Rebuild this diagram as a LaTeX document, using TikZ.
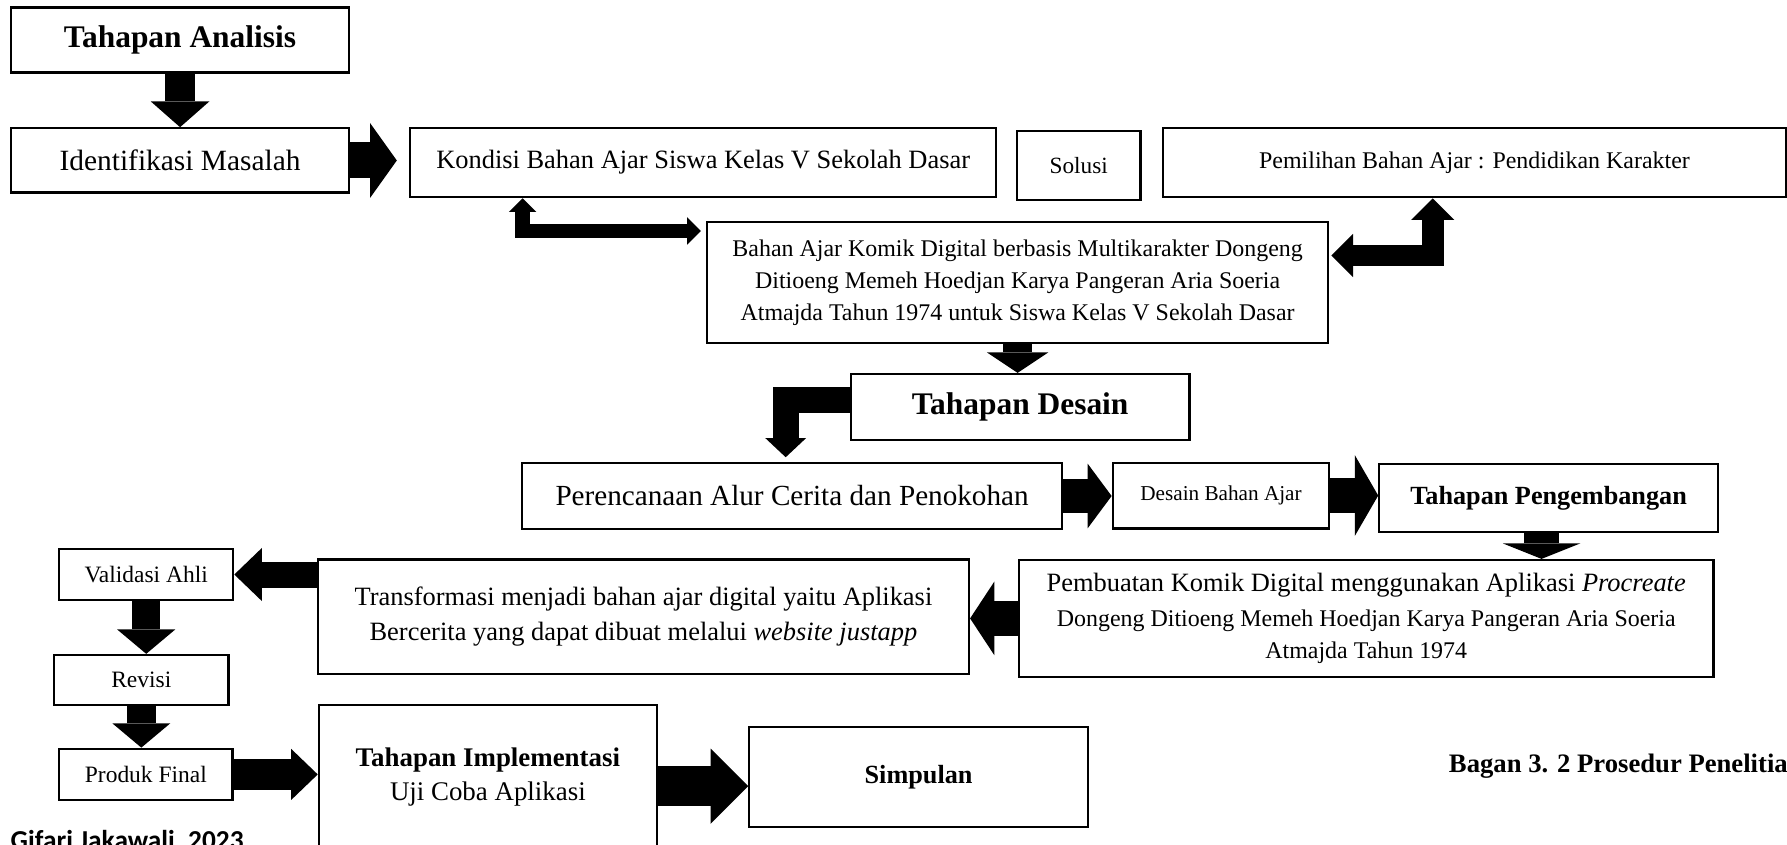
\documentclass[tikz,border=0pt]{standalone}
\usepackage{fontspec}
\setmainfont{Liberation Serif}
\newfontfamily\notefont{Carlito}
\usetikzlibrary{arrows.meta}
\newcommand{\setsz}[2]{\fontsize{#1}{#2}\selectfont}

\begin{document}
\begin{tikzpicture}[x=0.5pt,y=-0.5pt,
    box/.style={draw,line width=1pt,inner sep=0pt,align=center,minimum width=#1},
    box/.default=148.5pt,
    fat/.style n args={3}{line width=#1,-{Triangle[width=#2,length=#3,line width=0pt]}},
    twofat/.style n args={3}{line width=#1,line join=miter,
        {Triangle[width=#2,length=#3,line width=0pt]}-{Triangle[width=#2,length=#3,line width=0pt]}}]
    \useasboundingbox (0,0) rectangle (1568,740.6);

    % tahapan analisis
    \node[box,minimum height=28.5pt,font={\setsz{13.8pt}{16pt}\bfseries}] (analisis) at (158,35) {Tahapan Analisis};
    \node[box,minimum height=28.2pt,font={\setsz{12.9pt}{15pt}}] (ident) at (158,140.8) {Identifikasi Masalah};
    \node[box=257pt,minimum height=30.5pt,font={\setsz{11.6pt}{14pt}}] (kondisi) at (617,142.5) {Kondisi Bahan Ajar Siswa Kelas V Sekolah Dasar};
    \node[box=54.1pt,minimum height=30.4pt,font={\setsz{10.2pt}{12pt}}] (solusi) at (946.5,145.1) {Solusi};
    \node[box=273.2pt,minimum height=30.5pt,font={\setsz{10.5pt}{12pt}}] (pemilihan) at (1293.8,142.5) {Pemilihan Bahan Ajar : Pendidikan Karakter};
    \node[box=272.5pt,minimum height=53.1pt,font={\setsz{10.5pt}{14pt}}] (bahan) at (892.9,248.1)
        {Bahan Ajar Komik Digital berbasis Multikarakter Dongeng\\ Ditioeng Memeh Hoedjan Karya Pangeran Aria Soeria\\ Atmajda Tahun 1974 untuk Siswa Kelas V Sekolah Dasar};

    % tahapan desain
    \node[box,minimum height=28.9pt,font={\setsz{13.8pt}{16pt}\bfseries}] (desain) at (895.2,357.1) {Tahapan Desain};
    \node[box=236.7pt,minimum height=29.2pt,font={\setsz{12.8pt}{15pt}}] (peren) at (695,435.2) {Perencanaan Alur Cerita dan Penokohan};
    \node[box=95pt,minimum height=28.8pt,font={\setsz{9.3pt}{11pt}}] (desainba) at (1071.4,434.8) {Desain Bahan Ajar};

    % tahapan pengembangan
    \node[box,minimum height=29.7pt,font={\setsz{11.5pt}{14pt}\bfseries}] (pengemb) at (1358.8,436.8) {Tahapan Pengembangan};
    \node[box=304.8pt,minimum height=51.2pt,font={\setsz{10.5pt}{14pt}}] (pembuatan) at (1198.8,542.6)
        {\setsz{11.6pt}{14pt}Pembuatan Komik Digital menggunakan Aplikasi \textit{Procreate}\\[1pt] Dongeng Ditioeng Memeh Hoedjan Karya Pangeran Aria Soeria\\ Atmajda Tahun 1974};
    \node[box=285.6pt,minimum height=50.3pt,font={\setsz{11.6pt}{15.5pt}}] (transf) at (564.6,541.1)
        {Transformasi menjadi bahan ajar digital yaitu Aplikasi\\ Bercerita yang dapat dibuat melalui \textit{website justapp}};
    \node[box=76.3pt,minimum height=22.4pt,font={\setsz{10.3pt}{12pt}}] (validasi) at (128.3,504.1) {Validasi Ahli};
    \node[box=76.4pt,minimum height=22pt,font={\setsz{10.3pt}{12pt}}] (revisi) at (124,596.7) {Revisi};
    \node[box=76pt,minimum height=22.5pt,font={\setsz{10.3pt}{12pt}}] (produk) at (128,679.5) {Produk Final};

    % tahapan implementasi
    \node[box=148.3pt,minimum height=63.2pt,font={\setsz{11.8pt}{14.5pt}}] (impl) at (428.1,681.8)
        {\textbf{Tahapan Implementasi}\\ Uji Coba Aplikasi};
    \node[box,minimum height=43.9pt,font={\setsz{11.5pt}{14pt}\bfseries}] (simpulan) at (806,681.5) {Simpulan};

    \node[anchor=west,inner sep=0pt,font={\setsz{11.7pt}{14pt}\bfseries}] (bagan) at (1271,672) {Bagan 3. 2 Prosedur Penelitian};
    \node[anchor=base west,inner sep=0pt,font={\notefont\setsz{12pt}{14pt}\bfseries}] (sumber) at (9,745) {Gifari Jakawali, 2023};

    % panah
    \coordinate (kondisiin) at ([xshift=-5.4pt]kondisi.west);
    \coordinate (pengembout) at ([xshift=-3.1pt]pengemb.south);
    \coordinate (implout) at ([yshift=-4pt]impl.east);
    \draw[fat={13.4pt}{25.7pt}{11.3pt}] (analisis.south) -- (ident.north);
    \draw[fat={15.8pt}{32.9pt}{11.75pt}] (ident.east) -- (kondisiin |- ident.east);
    \draw[twofat={6.3pt}{12pt}{6pt}] ([xshift=-79.2pt]kondisi.south) |- ([xshift=-2.2pt,yshift=-4.3pt]bahan.north west);
    \draw[twofat={9.5pt}{19pt}{9.5pt}] ([xshift=-18.3pt]pemilihan.south) |- ([xshift=0.9pt,yshift=11.95pt]bahan.east);
    \draw[fat={12.7pt}{27pt}{9pt}] (bahan.south) -- (bahan.south |- desain.north);
    \draw[fat={11.5pt}{17.9pt}{8.4pt},line join=miter] ([yshift=2.9pt]desain.west) -| ([xshift=-2.8pt,yshift=1.9pt]peren.north);
    \draw[fat={14.5pt}{28.3pt}{10.5pt}] (peren.east) -- (peren.east -| desainba.west);
    \draw[fat={15pt}{35.4pt}{10.25pt}] (desainba.east) -- (desainba.east -| pengemb.west);
    \draw[fat={15.75pt}{34pt}{6.8pt}] (pengembout) -- (pengembout |- pembuatan.north);
    \draw[fat={15.2pt}{32.2pt}{10.6pt}] (pembuatan.west) -- (pembuatan.west -| transf.east);
    \draw[fat={11.4pt}{23.3pt}{12.1pt}] (validasi.east -| transf.west) -- (validasi.east);
    \foreach \a/\b in {validasi/revisi,revisi/produk}
        \draw[fat={12.5pt}{25.5pt}{10.7pt}] (\a.south) -- (\a.south |- \b.north);
    \draw[fat={13.9pt}{22.4pt}{11.65pt}] (produk.east) -- (produk.east -| impl.west);
    \draw[fat={17.5pt}{33pt}{16.5pt}] (implout) -- (implout -| simpulan.west);
\end{tikzpicture}
\end{document}
